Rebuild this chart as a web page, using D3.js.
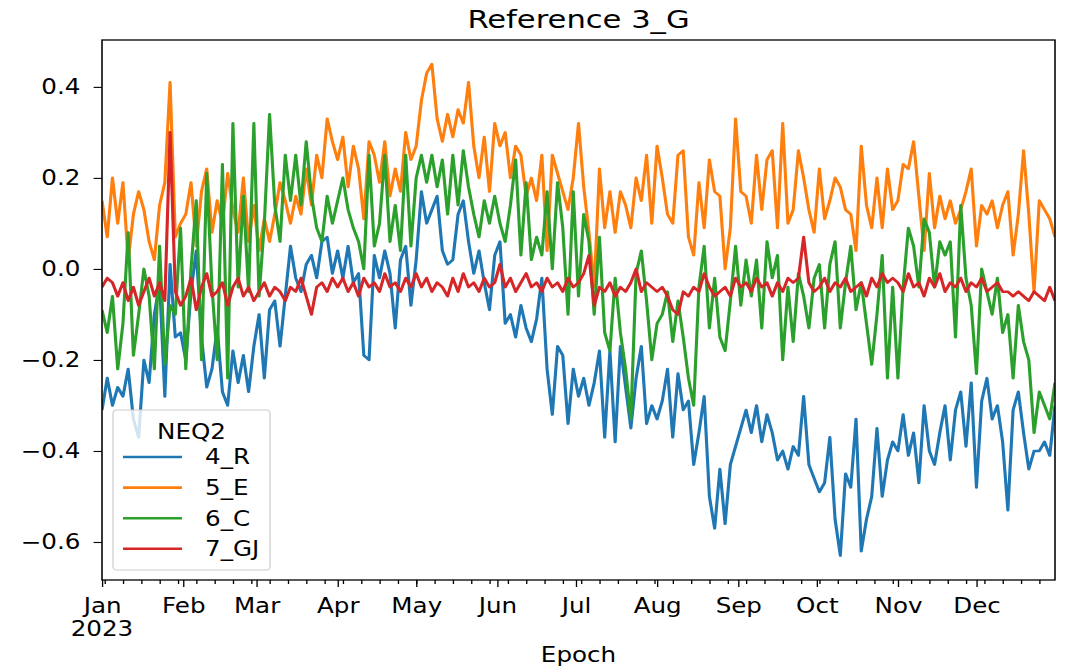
<!DOCTYPE html>
<html lang="en">
<head>
<meta charset="UTF-8">
<title>Reference 3_G</title>
<script src="https://cdn.jsdelivr.net/npm/d3@7"></script>
<style>
    body { margin: 0; background: #fff; }
    svg { display: block; font-family: "DejaVu Sans", sans-serif; }
</style>
</head>
<body>
<svg id="main"></svg>
<script>
    // one value every second day, Jan 1 .. Dec 31 2023
    const startDay = new Date(Date.UTC(2023, 0, 1));
    const endDay = new Date(Date.UTC(2023, 11, 31));
    const dayStep = 2;

    const seriesNames = ['4_R', '5_E', '6_C', '7_GJ'];
    const lineColors = ['#1f77b4', '#ff7f0e', '#2ca02c', '#d62728'];

    const r4 = [
        -0.31, -0.24, -0.30, -0.26, -0.28, -0.22, -0.33, -0.37, -0.20, -0.25, -0.10, -0.03, -0.28, 0.01, -0.15, -0.14, // jan
        -0.20, -0.05, 0.04, -0.15, -0.26, -0.22, -0.13, -0.27, -0.30, -0.18, -0.25, -0.19, -0.27, -0.17, // feb
        -0.10, -0.24, -0.09, -0.07, -0.17, -0.06, 0.05, -0.02, -0.05, 0.01, 0.03, -0.02, 0.06, 0.07, -0.01, // mar
        0.04, -0.02, 0.05, -0.03, -0.01, -0.19, -0.20, 0.03, -0.02, 0.04, -0.01, -0.13, 0.02, 0.05, -0.08, // apr
        0.02, 0.17, 0.10, 0.13, 0.16, 0.04, 0.01, 0.02, 0.12, 0.15, 0.06, -0.01, 0.04, -0.03, -0.09, 0.03, // may
        0.06, -0.12, -0.10, -0.15, -0.08, -0.13, -0.16, -0.11, -0.02, -0.22, -0.32, -0.17, -0.19, -0.34, -0.22, // jun
        -0.28, -0.24, -0.30, -0.25, -0.18, -0.37, -0.18, -0.38, -0.17, -0.26, -0.35, -0.24, -0.17, -0.34, -0.30, // jul
        -0.33, -0.29, -0.22, -0.37, -0.23, -0.31, -0.29, -0.43, -0.36, -0.28, -0.50, -0.57, -0.44, -0.56, -0.43, -0.39, // aug
        -0.35, -0.31, -0.36, -0.30, -0.38, -0.32, -0.36, -0.42, -0.40, -0.44, -0.39, -0.41, -0.28, -0.43, -0.46, // sep
        -0.49, -0.47, -0.37, -0.55, -0.63, -0.45, -0.48, -0.33, -0.62, -0.55, -0.50, -0.35, -0.50, -0.42, -0.38, // oct
        -0.40, -0.32, -0.41, -0.36, -0.47, -0.30, -0.40, -0.43, -0.36, -0.30, -0.42, -0.31, -0.27, -0.39, -0.25, // nov
        -0.48, -0.29, -0.24, -0.33, -0.30, -0.38, -0.53, -0.31, -0.27, -0.36, -0.44, -0.40, -0.40, -0.38, -0.41, -0.30  // dec
    ];
    const e5 = [
        0.15, 0.07, 0.20, 0.10, 0.19, 0.02, 0.12, 0.17, 0.13, 0.06, 0.02, 0.14, 0.19, 0.41, 0.07, 0.10,
        0.12, 0.19, 0.05, 0.17, 0.22, 0.08, 0.15, 0.10, 0.21, 0.13, 0.08, 0.20, 0.06, 0.14,
        0.04, 0.11, 0.06, 0.12, 0.19, 0.15, 0.10, 0.16, 0.12, 0.22, 0.14, 0.25, 0.20, 0.33, 0.28,
        0.24, 0.29, 0.18, 0.27, 0.22, 0.11, 0.28, 0.25, 0.19, 0.28, 0.16, 0.22, 0.17, 0.30, 0.24,
        0.27, 0.37, 0.43, 0.45, 0.33, 0.28, 0.34, 0.29, 0.35, 0.32, 0.41, 0.27, 0.20, 0.29, 0.17, 0.32,
        0.27, 0.30, 0.20, 0.27, 0.25, 0.16, 0.20, 0.15, 0.25, 0.04, 0.25, 0.21, 0.17, 0.13, 0.20,
        0.32, 0.18, 0.08, -0.04, 0.22, 0.09, 0.17, 0.08, 0.17, 0.14, 0.09, 0.20, 0.15, 0.25, 0.10,
        0.27, 0.20, 0.12, 0.10, 0.25, 0.26, 0.07, 0.03, 0.19, 0.09, 0.24, 0.17, 0.16, 0.00, 0.09, 0.33,
        0.17, 0.16, 0.10, 0.25, 0.13, 0.24, 0.26, 0.09, 0.32, 0.10, 0.13, 0.26, 0.20, 0.13, 0.08,
        0.22, 0.11, 0.15, 0.20, 0.18, 0.13, 0.12, 0.04, 0.27, 0.14, 0.09, 0.20, 0.09, 0.22, 0.13,
        0.15, 0.23, 0.22, 0.28, 0.16, 0.04, 0.21, 0.09, 0.16, 0.11, 0.15, 0.10, 0.13, 0.17, 0.22,
        0.05, 0.14, 0.12, 0.15, 0.09, 0.14, 0.17, 0.03, 0.12, 0.26, 0.12, -0.05, 0.15, 0.13, 0.11, 0.07
    ];
    const c6 = [
        -0.09, -0.14, -0.06, -0.22, -0.12, 0.08, -0.19, -0.10, 0.00, -0.06, -0.22, 0.05, -0.21, -0.08, -0.10, 0.09,
        -0.22, 0.00, 0.15, -0.20, 0.21, -0.04, -0.20, 0.23, -0.24, 0.32, -0.04, 0.16, -0.05, 0.32,
        -0.06, 0.10, 0.34, 0.14, 0.06, 0.25, 0.15, 0.25, 0.14, 0.28, 0.16, 0.09, 0.06, 0.16, 0.10,
        0.15, 0.20, 0.13, 0.09, 0.06, 0.00, 0.25, 0.05, 0.10, 0.25, 0.06, 0.14, 0.04, 0.25, 0.05,
        0.20, 0.25, 0.19, 0.25, 0.18, 0.24, 0.12, 0.25, 0.14, 0.26, 0.18, 0.12, 0.07, 0.15, 0.10, 0.16,
        0.10, 0.06, 0.14, 0.24, 0.03, 0.19, 0.02, 0.07, 0.03, 0.17, 0.00, 0.19, 0.09, -0.10, 0.17,
        -0.06, 0.12, 0.06, -0.10, 0.07, -0.14, -0.18, -0.02, -0.14, -0.22, -0.33, -0.01, 0.04, -0.07, -0.20,
        -0.12, -0.10, -0.05, -0.16, -0.07, -0.15, -0.24, -0.30, -0.04, 0.05, -0.13, -0.02, -0.15, -0.18, -0.07, 0.05,
        -0.08, 0.02, -0.06, 0.02, -0.13, 0.06, -0.02, 0.03, -0.20, -0.04, -0.16, -0.01, -0.06, -0.13, -0.02,
        0.01, -0.13, 0.01, 0.06, -0.13, -0.03, 0.05, -0.09, -0.03, -0.12, -0.21, -0.10, 0.03, -0.24, -0.04,
        -0.24, -0.04, 0.09, 0.05, -0.04, 0.11, 0.08, -0.04, 0.06, 0.03, 0.06, -0.15, 0.14, -0.02, -0.08,
        -0.23, 0.00, -0.05, -0.10, -0.02, -0.14, -0.10, -0.24, -0.08, -0.16, -0.20, -0.36, -0.27, -0.30, -0.33, -0.25
    ];
    const gj7 = [
        -0.04, -0.02, -0.03, -0.06, -0.03, -0.07, -0.04, -0.08, -0.05, -0.02, -0.06, -0.03, -0.07, 0.30, -0.05, -0.08,
        -0.06, -0.02, -0.09, -0.04, -0.01, -0.06, -0.05, -0.03, -0.08, -0.04, -0.02, -0.06, -0.04, -0.07,
        -0.05, -0.03, -0.06, -0.04, -0.05, -0.07, -0.04, -0.05, -0.02, -0.06, -0.10, -0.04, -0.03, -0.05, -0.02,
        -0.04, -0.02, -0.05, -0.03, -0.06, -0.02, -0.04, -0.03, -0.05, -0.01, -0.04, -0.03, -0.05, -0.02, -0.04,
        -0.01, -0.04, -0.02, -0.05, -0.03, -0.04, -0.06, -0.02, -0.05, -0.01, -0.04, -0.03, -0.05, -0.02, -0.04, -0.03,
        0.01, -0.04, -0.02, -0.05, -0.03, -0.01, -0.04, -0.03, -0.05, -0.02, -0.04, -0.03, -0.05, -0.02, -0.04,
        -0.03, -0.01, 0.03, -0.08, -0.04, -0.05, -0.03, -0.06, -0.04, -0.05, -0.03, 0.00, -0.05, -0.03, -0.04,
        -0.05, -0.04, -0.06, -0.09, -0.10, -0.05, -0.06, -0.04, -0.05, -0.01, -0.04, -0.06, -0.05, -0.04, -0.06, -0.02,
        -0.04, -0.03, -0.05, -0.02, -0.04, -0.03, -0.06, -0.03, -0.05, -0.02, -0.03, -0.02, 0.07, -0.03, -0.05,
        -0.04, -0.02, -0.05, -0.03, -0.04, -0.02, -0.05, -0.04, -0.03, -0.06, -0.02, -0.04, -0.01, -0.03, -0.02,
        -0.03, -0.05, -0.01, -0.04, -0.03, -0.06, -0.02, -0.04, -0.01, -0.05, -0.03, -0.04, -0.02, -0.05, -0.03,
        -0.04, -0.02, -0.05, -0.04, -0.03, -0.05, -0.05, -0.06, -0.05, -0.06, -0.07, -0.05, -0.06, -0.07, -0.04, -0.07
    ];
    const allSeries = [r4, e5, c6, gj7];
    const yTicks = [-0.6, -0.4, -0.2, 0.0, 0.2, 0.4];

    // the reference is stretched sideways, so draw narrow and let the viewBox stretch it
    const sx = 1.2;
    const W = 1067, H = 668;
    const plotLeft = 102 / sx, plotRight = 1055 / sx, plotTop = 40, plotBottom = 580;
    const labelSize = 20.5, titleSize = 25.5;

    let svg = d3.select('svg#main')
        .attr('width', W).attr('height', H)
        .attr('viewBox', `0 0 ${W / sx} ${H}`)
        .attr('preserveAspectRatio', 'none');

    let x = d3.scaleUtc().domain([startDay, endDay]).range([plotLeft, plotRight]);
    let y = d3.scaleLinear().domain([-0.6835, 0.503]).range([plotBottom, plotTop]);

    let dates = allSeries[0].map((v, i) => d3.utcDay.offset(startDay, i * dayStep));

    let plot = svg.append('g');
    plot.append('clipPath').attr('id', 'clip')
        .append('rect').attr('x', plotLeft).attr('y', plotTop)
        .attr('width', plotRight - plotLeft).attr('height', plotBottom - plotTop);

    for (let i = 0; i < allSeries.length; i++) {
        let line = d3.line()
            .x((d, j) => x(dates[j]))
            .y(d => y(d));
        plot.append('path')
            .datum(allSeries[i])
            .attr('d', line)
            .attr('clip-path', 'url(#clip)')
            .attr('fill', 'none')
            .style('stroke', lineColors[i])
            .style('stroke-width', '2.6px')
            .style('stroke-linejoin', 'round');
    }

    // axes
    let yAxis = svg.append('g')
        .attr('transform', `translate(${plotLeft},0)`)
        .call(d3.axisLeft(y).tickValues(yTicks).tickFormat(d3.format('.1f'))
            .tickSize(7).tickPadding(11));

    let xMinor = svg.append('g')
        .attr('transform', `translate(0,${plotBottom})`)
        .call(d3.axisBottom(x).tickValues(d3.utcMonday.range(startDay, endDay))
            .tickSize(4).tickFormat(''));

    let xAxis = svg.append('g')
        .attr('transform', `translate(0,${plotBottom})`)
        .call(d3.axisBottom(x).tickValues(d3.utcMonth.range(startDay, endDay))
            .tickFormat(d3.utcFormat('%b')).tickSize(7).tickPadding(11.5));

    [yAxis, xMinor, xAxis].forEach(g => {
        g.select('.domain').remove();
        g.selectAll('.tick line').attr('stroke', '#000').attr('stroke-width', 1.1);
        g.selectAll('text').attr('font-size', labelSize).attr('fill', '#000')
            .attr('font-family', '"DejaVu Sans", sans-serif');
    });

    svg.append('text')
        .attr('x', x(startDay)).attr('y', 636)
        .attr('text-anchor', 'middle').attr('font-size', labelSize)
        .text('2023');

    // frame
    svg.append('rect')
        .attr('x', plotLeft).attr('y', plotTop)
        .attr('width', plotRight - plotLeft).attr('height', plotBottom - plotTop)
        .attr('fill', 'none').attr('stroke', '#000').attr('stroke-width', 1.3);

    svg.append('text')
        .attr('x', (plotLeft + plotRight) / 2).attr('y', 28)
        .attr('text-anchor', 'middle').attr('font-size', titleSize)
        .text('Reference 3_G');

    svg.append('text')
        .attr('x', (plotLeft + plotRight) / 2).attr('y', 662)
        .attr('text-anchor', 'middle').attr('font-size', labelSize)
        .text('Epoch');

    // legend
    let legend = svg.append('g');
    legend.append('rect')
        .attr('x', 113 / sx).attr('y', 410)
        .attr('width', (270 - 113) / sx).attr('height', 160)
        .attr('rx', 3)
        .attr('fill', '#fff').attr('fill-opacity', 0.8)
        .attr('stroke', '#cccccc').attr('stroke-width', 1);
    legend.append('text')
        .attr('x', (113 + 270) / 2 / sx).attr('y', 432).attr('dy', '0.36em')
        .attr('text-anchor', 'middle').attr('font-size', labelSize)
        .text('NEQ2');

    let lineLegend = legend.selectAll('.lineLegend').data(seriesNames)
        .enter().append('g')
        .attr('class', 'lineLegend')
        .attr('transform', (d, i) => `translate(0,${457 + i * 30.6})`);
    lineLegend.append('line')
        .attr('x1', 123 / sx).attr('x2', 182 / sx)
        .attr('stroke', (d, i) => lineColors[i])
        .attr('stroke-width', 2.6);
    lineLegend.append('text')
        .attr('x', 205 / sx).attr('dy', '0.36em')
        .attr('font-size', labelSize)
        .text(d => d);
</script>
</body>
</html>
